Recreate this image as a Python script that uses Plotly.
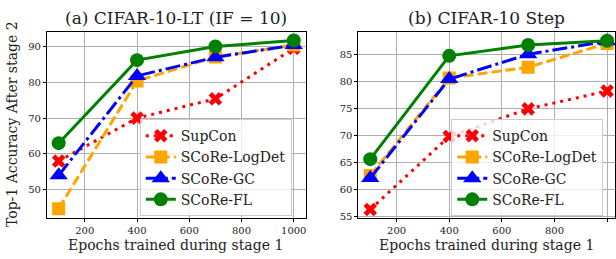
import plotly.graph_objects as go

epochs = [100, 400, 700, 1000]
series_names = ["SupCon", "SCoRe-LogDet", "SCoRe-GC", "SCoRe-FL"]

lt_supcon = [58.0, 70.0, 75.4, 89.5]
lt_logdet = [44.7, 80.4, 87.1, 90.4]
lt_gc = [54.0, 81.8, 87.0, 90.4]
lt_fl = [63.0, 86.2, 90.0, 91.7]

step_supcon = [56.3, 69.8, 74.9, 78.2]
step_logdet = [62.6, 80.6, 82.6, 87.0]
step_gc = [62.1, 80.4, 85.0, 87.4]
step_fl = [65.6, 84.7, 86.7, 87.5]

titles = ["(a) CIFAR-10-LT (IF = 10)", "(b) CIFAR-10 Step"]
xlabel = "Epochs trained during stage 1"
ylabel = "Top-1 Accuracy After stage 2"
xticks = [200, 400, 600, 800, 1000]
lt_yticks = [50, 60, 70, 80, 90]
step_yticks = [55, 60, 65, 70, 75, 80, 85]

styles = [
    dict(color="#ff0000", dash="3px,5px", symbol="x", size=12),
    dict(color="#ffa500", dash="10px,4px", symbol="square", size=13),
    dict(color="#0000ff", dash="15px,4px,3px,4px", symbol="triangle-up", size=16),
    dict(color="#008000", dash="solid", symbol="circle", size=14),
]

FONT = "DejaVu Serif"
W, H = 616, 259

fig = go.Figure()
panels = [
    ([lt_supcon, lt_logdet, lt_gc, lt_fl], "x", "y", "legend"),
    ([step_supcon, step_logdet, step_gc, step_fl], "x2", "y2", "legend2"),
]
for data, xa, ya, lg in panels:
    for name, vals, st in zip(series_names, data, styles):
        fig.add_trace(go.Scatter(
            x=epochs, y=vals, name=name, xaxis=xa, yaxis=ya, legend=lg,
            mode="lines+markers",
            line=dict(color=st["color"], dash=st["dash"], width=3),
            marker=dict(symbol=st["symbol"], size=st["size"], color=st["color"],
                        line=dict(width=0)),
        ))

def px_x(p):
    return p / W

def px_y(p):
    return 1 - p / H

axis_common = dict(
    showline=True, linecolor="black", linewidth=1, mirror=True,
    ticks="outside", ticklen=3, tickcolor="black", tickwidth=0.8,
    showgrid=True, gridcolor="#b0b0b0", gridwidth=0.8,
    zeroline=False, tickfont=dict(family=FONT, size=10, color="#222"),
)

fig.update_layout(
    width=W, height=H,
    margin=dict(l=0, r=0, t=0, b=0),
    paper_bgcolor="white", plot_bgcolor="white",
    font=dict(family=FONT, color="#222"),
    xaxis=dict(domain=[px_x(47), px_x(306)], range=[55, 1045], tickvals=xticks,
               anchor="y", **axis_common),
    yaxis=dict(domain=[px_y(221), px_y(32)], range=[42.2, 94.2], tickvals=lt_yticks,
               anchor="x", **axis_common),
    xaxis2=dict(domain=[px_x(359), 1.0], range=[55, 1030], tickvals=xticks,
                anchor="y2", **axis_common),
    yaxis2=dict(domain=[px_y(221), px_y(32)], range=[54.8, 89.2], tickvals=step_yticks,
                anchor="x2", **axis_common),
    legend=dict(x=px_x(140), y=px_y(121), xanchor="left", yanchor="top",
                bgcolor="rgba(255,255,255,0.8)", bordercolor="#cccccc", borderwidth=1,
                font=dict(family=FONT, size=14, color="#222"), tracegroupgap=0),
    legend2=dict(x=px_x(452), y=px_y(121), xanchor="left", yanchor="top",
                 bgcolor="rgba(255,255,255,0.8)", bordercolor="#cccccc", borderwidth=1,
                 font=dict(family=FONT, size=14, color="#222"), tracegroupgap=0),
    showlegend=True,
)

def add_text(text, x, y, size, angle=0):
    fig.add_annotation(text=text, x=px_x(x), y=px_y(y), xref="paper", yref="paper",
                       xanchor="center", yanchor="middle", showarrow=False,
                       textangle=angle, font=dict(family=FONT, size=size, color="#222"))

add_text(titles[0], 176, 18, 17)
add_text(titles[1], 487, 18, 17)
add_text(xlabel, 176, 249, 14)
add_text(xlabel, 487, 249, 14)
add_text(ylabel, 12, 126, 14, angle=-90)

fig.write_html(
    "out.html",
    config={"displayModeBar": False},
    post_script="document.body.style.margin='0';document.body.style.overflow='hidden';"
                "window.dispatchEvent(new Event('resize'));",
)
